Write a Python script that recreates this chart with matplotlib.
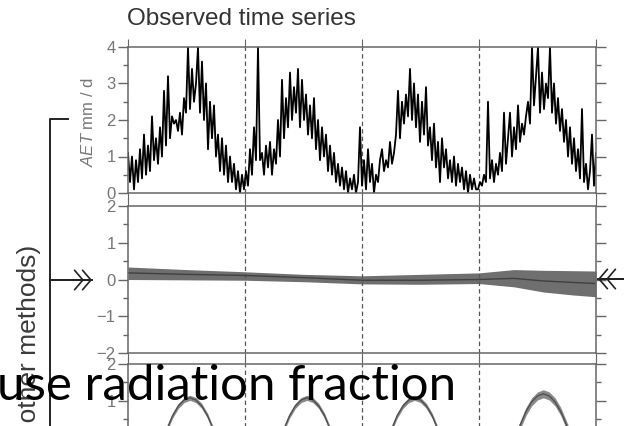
import numpy as np
import matplotlib
matplotlib.use("Agg")
import matplotlib.pyplot as plt
from matplotlib.lines import Line2D
from matplotlib.patches import FancyArrowPatch

plt.rcParams["font.family"] = ["Liberation Sans", "DejaVu Sans"]
plt.rcParams["mathtext.fontset"] = "custom"
plt.rcParams["mathtext.it"] = "Liberation Sans:italic"
plt.rcParams["mathtext.rm"] = "Liberation Sans"

# observed AET (mm/d), 4 years, evenly spaced samples
aet_y1 = [1.1, 0.3, 1.0, 0.1, 0.9, 0.3, 1.2, 0.4, 1.6, 0.5, 1.3, 0.6, 2.1, 0.9, 1.5,
          0.8, 1.8, 1.0, 2.8, 1.3, 3.2, 1.5, 2.1, 1.9, 2.0, 1.7, 2.2, 1.6, 2.6, 2.2,
          4.0, 2.3, 3.4, 2.5, 3.0, 4.0, 2.2, 3.6, 2.0, 3.0, 1.2, 2.5, 1.5, 2.4, 1.0,
          1.6, 0.6, 1.5, 0.5, 1.3, 0.3, 1.0, 0.3, 0.8, 0.1, 0.6, 0.0, 0.5]
aet_y2 = [0.1, 0.6, 0.2, 1.2, 0.5, 1.8, 0.9, 4.0, 0.9, 1.1, 0.5, 1.3, 0.7, 1.4, 0.5,
          1.2, 0.8, 2.0, 1.0, 3.1, 1.5, 2.6, 1.8, 3.3, 2.0, 2.9, 2.2, 3.4, 1.8, 3.1,
          2.0, 2.7, 1.6, 2.4, 1.5, 2.6, 1.2, 2.0, 0.9, 1.8, 1.0, 1.6, 0.6, 1.3, 0.5,
          1.1, 0.3, 0.8, 0.2, 0.7, 0.1, 0.6, 0.0, 0.4, 0.1, 0.5, 0.0, 0.3]
aet_y3 = [1.8, 0.2, 0.9, 0.1, 1.2, 0.3, 0.8, 0.0, 0.5, 0.3, 0.9, 1.2, 0.6, 0.9, 0.7,
          1.4, 0.8, 1.1, 1.6, 2.8, 1.5, 2.5, 1.9, 2.7, 2.1, 3.4, 2.0, 3.0, 1.8, 2.7,
          1.4, 2.5, 1.6, 2.9, 1.3, 1.8, 0.9, 1.9, 0.7, 1.4, 0.3, 1.5, 0.7, 1.2, 0.4,
          0.9, 0.3, 1.0, 0.2, 0.8, 0.3, 0.7, 0.1, 0.6, 0.0, 0.5, 0.1, 0.4, 0.1]
aet_y4 = [0.1, 0.3, 0.2, 0.5, 0.3, 2.5, 0.4, 0.9, 0.3, 0.8, 0.5, 1.1, 0.6, 2.2, 0.8,
          1.5, 2.2, 1.0, 1.8, 1.2, 2.4, 1.4, 1.9, 1.6, 2.1, 2.5, 1.9, 4.0, 2.4, 3.2,
          4.0, 2.2, 3.3, 2.3, 3.0, 2.6, 4.0, 2.2, 3.0, 1.9, 2.6, 1.7, 2.3, 1.4, 2.0,
          1.0, 1.8, 0.8, 1.5, 0.6, 1.2, 0.4, 2.3, 0.3, 0.8, 0.1, 0.6, 1.6, 0.2, 1.1]
aet = aet_y1 + aet_y2 + aet_y3 + aet_y4
aet_t = np.linspace(0, 4, len(aet))

# middle panel: trend band
trend_t = [0, 0.5, 1.0, 1.5, 2.0, 2.5, 3.0, 3.3, 3.55, 3.8, 4.0]
trend_mid = [0.18, 0.14, 0.11, 0.05, -0.02, -0.02, 0.0, 0.03, -0.04, -0.08, -0.11]
trend_hi = [0.34, 0.27, 0.21, 0.14, 0.10, 0.14, 0.18, 0.27, 0.25, 0.24, 0.23]
trend_lo = [0.0, -0.01, -0.02, -0.06, -0.12, -0.13, -0.11, -0.20, -0.34, -0.42, -0.47]

# bottom panel: seasonal humps (only the tops are visible)
rad_t = [0.0, 0.23, 0.33, 0.38, 0.43, 0.48, 0.53, 0.58, 0.63, 0.68, 0.73, 0.83,
         1.03, 1.23, 1.33, 1.38, 1.43, 1.48, 1.53, 1.58, 1.63, 1.68, 1.73, 1.83,
         2.0, 2.15, 2.25, 2.30, 2.35, 2.40, 2.45, 2.50, 2.55, 2.60, 2.65, 2.75,
         2.95, 3.25, 3.35, 3.40, 3.45, 3.50, 3.55, 3.60, 3.65, 3.70, 3.75, 3.85, 4.0]
rad_mid = [-1.2, -0.62, 0.21, 0.59, 0.86, 1.02, 1.08, 1.02, 0.86, 0.59, 0.21, -0.62,
           -1.2, -0.62, 0.21, 0.59, 0.86, 1.02, 1.08, 1.02, 0.86, 0.59, 0.21, -0.62,
           -1.2, -0.62, 0.21, 0.59, 0.86, 1.02, 1.08, 1.02, 0.86, 0.59, 0.21, -0.62,
           -1.2, -0.51, 0.32, 0.70, 0.97, 1.13, 1.19, 1.13, 0.97, 0.70, 0.32, -0.51, -1.2]
rad_spread = [0.07] * 37 + [0.11] * 12

W, H = 624, 426
fig = plt.figure(figsize=(W / 100, H / 100), dpi=100)


def fx(x):
    return x / W


def fy(y):
    return 1 - y / H


left, width = fx(128), (596 - 128) / W
ph = 147 / H
ax1 = fig.add_axes([left, fy(193), width, 146 / H])
ax2 = fig.add_axes([left, fy(353), width, ph])
ax3 = fig.add_axes([left, fy(511), width, ph])

spine_c = "#666666"
lab_c = "#777777"
for ax in (ax1, ax2, ax3):
    ax.set_xlim(0, 4)
    for s in ax.spines.values():
        s.set_color(spine_c)
        s.set_linewidth(1.1)
    for yr in (1, 2, 3):
        ax.axvline(yr, color="#555555", lw=0.9, ls=(0, (3.5, 2.5)))
    ax.set_xticks([0, 1, 2, 3, 4])
    ax.tick_params(axis="x", which="both", top=True, bottom=True, direction="out",
                   length=6, color=spine_c, labelbottom=False)
    ax.tick_params(axis="y", which="major", left=True, right=True, direction="out",
                   length=7, width=1, color=spine_c, labelcolor=lab_c,
                   labelsize=12, pad=2)
    ax.tick_params(axis="y", which="minor", left=True, right=True, direction="out",
                   length=3.5, width=1, color=spine_c)

ax1.plot(aet_t, aet, color="black", lw=1.3)
ax1.set_ylim(0, 4)
ax1.set_yticks([0, 1, 2, 3, 4])
ax1.set_yticks(np.arange(0.5, 4, 1), minor=True)

ax2.fill_between(trend_t, trend_lo, trend_hi, color="#6f6f6f", lw=0)
ax2.plot(trend_t, trend_mid, color="#404040", lw=1)
ax2.set_ylim(-2, 2)
ax2.set_yticks([-2, -1, 0, 1, 2])
ax2.set_yticklabels(["\u22122", "\u22121", "0", "1", "2"])
ax2.set_yticks(np.arange(-1.5, 2, 1), minor=True)

rad_mid_a = np.array(rad_mid)
rad_sp = np.array(rad_spread)
ax3.fill_between(rad_t, rad_mid_a - rad_sp, rad_mid_a + rad_sp, color="#8a8a8a", lw=0)
ax3.plot(rad_t, rad_mid, color="#505050", lw=1)
ax3.set_ylim(-2, 2)
ax3.set_yticks([-2, -1, 0, 1, 2])
ax3.set_yticklabels(["\u22122", "\u22121", "0", "1", "2"])
ax3.set_yticks(np.arange(-1.5, 2, 1), minor=True)

fig.text(fx(127), fy(25), "Observed time series", fontsize=17.5, color="#333333",
         ha="left", va="baseline")
fig.text(fx(88), fy(122), r"$\it{AET}$ mm / d", fontsize=12, color=lab_c,
         rotation=90, ha="center", va="center")

# bracket and arrows
fig.add_artist(Line2D([fx(68), fx(50), fx(50)], [fy(119), fy(119), fy(430)],
                      color="#222222", lw=1.4))
fig.add_artist(Line2D([fx(50), fx(92)], [fy(280), fy(280)], color="#222222", lw=1.4))
fig.add_artist(Line2D([fx(598), fx(624)], [fy(279), fy(279)], color="#222222", lw=1.4))
for tip, tail in ((84, 50), (92, 50), (598, 624), (606, 624)):
    yy = 280 if tail == 50 else 279
    fig.add_artist(FancyArrowPatch((fx(tail), fy(yy)), (fx(tip), fy(yy)),
                                   transform=fig.transFigure,
                                   arrowstyle="->,head_length=0.6,head_width=0.7",
                                   mutation_scale=10, shrinkA=0, shrinkB=0,
                                   color="#222222", lw=1.2))

fig.text(fx(29), fy(245), "(or other methods)", fontsize=19, color="#3a3a3a",
         rotation=90, rotation_mode="anchor", ha="right", va="center")
fig.text(fx(-3), fy(400), "use radiation fraction", fontsize=35.5, color="black",
         family=["Lato", "DejaVu Sans"], ha="left", va="baseline")

fig.savefig("out.png", dpi=100)
